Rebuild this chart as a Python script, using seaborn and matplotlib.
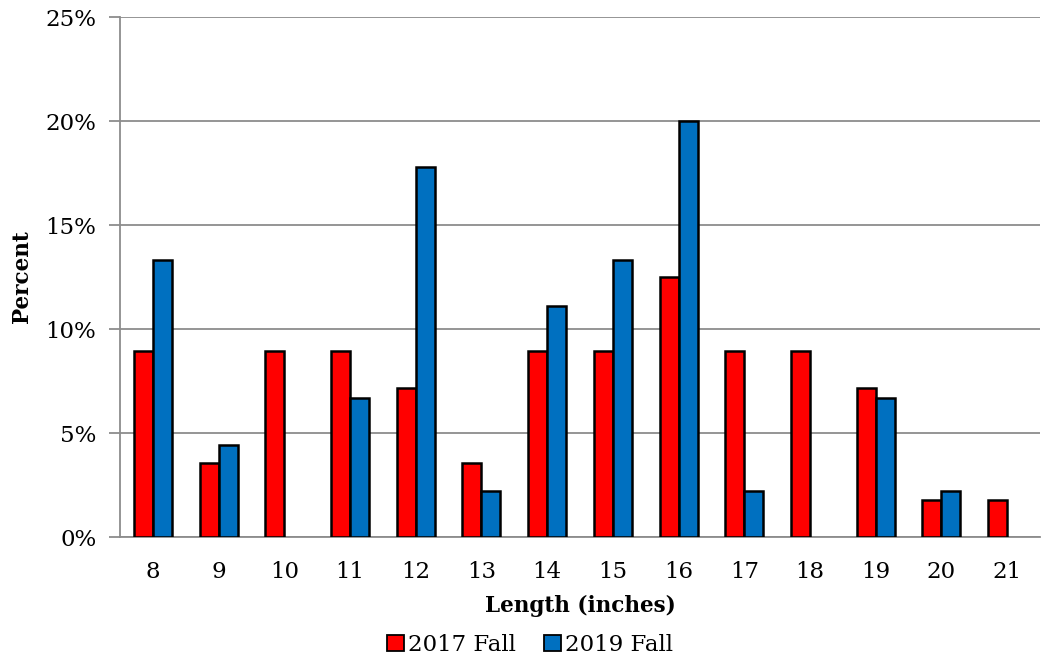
import matplotlib
matplotlib.use("Agg")
import matplotlib.pyplot as plt
import seaborn as sns
import pandas as pd
import numpy as np
from matplotlib.patches import Patch
from matplotlib.ticker import FuncFormatter

# Length-frequency distribution (percent of fish in each 1-inch class)
lengths = ["8", "9", "10", "11", "12", "13", "14", "15", "16", "17", "18", "19", "20", "21"]
fall_2017 = [8.93, 3.57, 8.93, 8.93, 7.14, 3.57, 8.93, 8.93, 12.5, 8.93, 8.93, 7.14, 1.79, 1.79]
fall_2019 = [13.33, 4.44, 0.0, 6.67, 17.78, 2.22, 11.11, 13.33, 20.0, 2.22, 0.0, 6.67, 2.22, 0.0]
series_names = ["2017 Fall", "2019 Fall"]
series_colors = ["#FF0000", "#0070C0"]

sns.set_style("white")
plt.rcParams["font.family"] = ["DejaVu Serif"]
plt.rcParams["text.color"] = "black"
plt.rcParams["axes.labelcolor"] = "black"
plt.rcParams["xtick.color"] = "black"
plt.rcParams["ytick.color"] = "black"

df = pd.DataFrame({
    "Length": lengths * 2,
    "Percent": fall_2017 + fall_2019,
    "Season": [series_names[0]] * len(lengths) + [series_names[1]] * len(lengths),
})
# empty classes are left blank rather than drawn as flat bars
df["Percent"] = df["Percent"].replace(0.0, np.nan)

fig = plt.figure(figsize=(10.49, 6.61), dpi=100)
ax = fig.add_axes([120 / 1049, 1 - 537 / 661, 920 / 1049, 520 / 661])

sns.barplot(data=df, x="Length", y="Percent", hue="Season", order=lengths,
            hue_order=series_names, palette=series_colors, width=0.58,
            edgecolor="black", linewidth=1.8, saturation=1, ax=ax, legend=False,
            zorder=3)

ax.set_ylim(0, 25)
ax.set_xlim(-0.5, len(lengths) - 0.5)
ax.set_yticks(np.arange(0, 26, 5))
ax.yaxis.set_major_formatter(FuncFormatter(lambda v, _: f"{v:.0f}%"))
ax.grid(axis="y", color="#8c8c8c", linewidth=1.3, zorder=0)
ax.set_axisbelow(True)

for side in ["top", "right"]:
    ax.spines[side].set_visible(False)
for side in ["left", "bottom"]:
    ax.spines[side].set_color("#8c8c8c")
    ax.spines[side].set_linewidth(1.3)

ax.tick_params(axis="y", which="both", left=True, length=8, width=1.3,
               color="#8c8c8c", labelcolor="black", labelsize=16.5, pad=9)
ax.tick_params(axis="x", bottom=False, labelcolor="black", labelsize=16.5, pad=14)

ax.set_xlabel("Length (inches)", fontsize=15.5, fontweight="bold", labelpad=8)
ax.set_ylabel("Percent", fontsize=15.5, fontweight="bold", labelpad=9)

handles = [Patch(facecolor=c, edgecolor="black", linewidth=1.3) for c in series_colors]
fig.legend(handles, series_names, loc="center", bbox_to_anchor=(530 / 1049, 1 - 645 / 661),
           ncol=2, frameon=False, fontsize=16.5, handlelength=0.75, handleheight=0.75,
           handletextpad=0.2, columnspacing=1.2, borderpad=0)

fig.savefig("out.png", dpi=100)
